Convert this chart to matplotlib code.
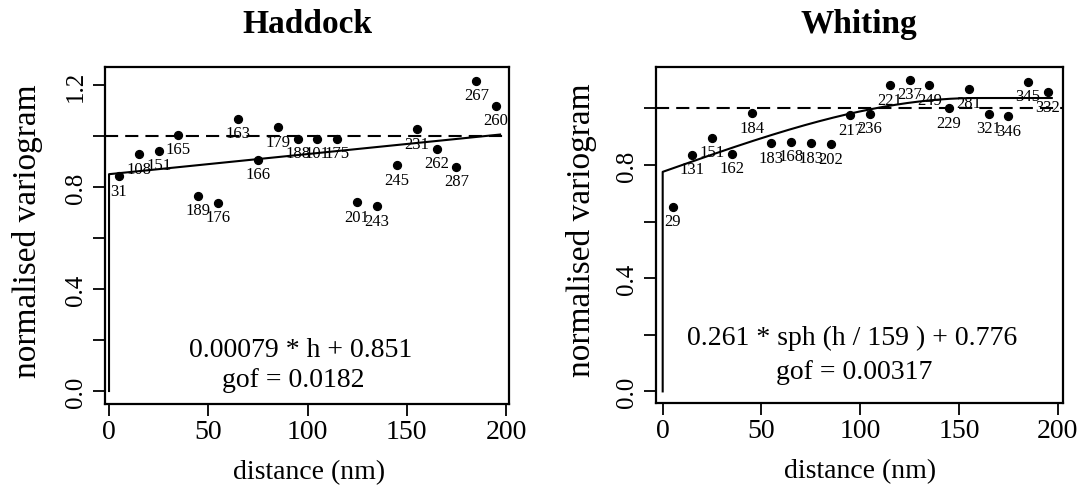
import numpy as np
import matplotlib
matplotlib.use('Agg')
import matplotlib.pyplot as plt

plt.rcParams['font.family'] = ['Liberation Serif', 'DejaVu Serif']

# --- data ---
lags = [5, 15, 25, 35, 45, 55, 65, 75, 85, 95, 105, 115, 125, 135, 145, 155, 165, 175, 185, 195]

haddock_gamma = [0.842, 0.929, 0.942, 1.005, 0.766, 0.737, 1.069, 0.906, 1.035, 0.991,
                 0.991, 0.991, 0.740, 0.725, 0.886, 1.027, 0.951, 0.880, 1.218, 1.119]
haddock_npairs = [31, 108, 151, 165, 189, 176, 163, 166, 179, 188,
                  101, 175, 201, 243, 245, 231, 262, 287, 267, 260]

whiting_gamma = [0.652, 0.837, 0.895, 0.840, 0.983, 0.877, 0.883, 0.877, 0.873, 0.976,
                 0.982, 1.082, 1.101, 1.082, 1.000, 1.068, 0.980, 0.972, 1.095, 1.057]
whiting_npairs = [29, 131, 151, 162, 184, 183, 168, 183, 202, 217,
                  236, 221, 237, 249, 229, 281, 321, 346, 345, 332]

# fitted models (as printed on the chart)
HAD_SLOPE, HAD_NUGGET, HAD_GOF = 0.00079, 0.851, 0.0182
WHI_PSILL, WHI_RANGE, WHI_NUGGET, WHI_GOF = 0.261, 159, 0.776, 0.00317
H_MAX = 197

x_ticks = [0, 50, 100, 150, 200]


def sph(r):
    r = np.minimum(r, 1.0)
    return 1.5 * r - 0.5 * r ** 3


def style_axes(ax, xlim, ylim, ylabels):
    ax.set_xlim(*xlim)
    ax.set_ylim(*ylim)
    ax.set_xticks(x_ticks)
    ax.set_xticklabels([str(t) for t in x_ticks], fontsize=20)
    yt = np.arange(0, 1.21, 0.2)
    yt = yt[yt <= ylim[1]]
    ax.set_yticks(yt)
    ax.set_yticklabels([f'{v:.1f}' if round(v, 1) in ylabels else '' for v in yt],
                       fontsize=18, rotation=90, va='center')
    ax.tick_params(axis='x', direction='out', length=8.5, width=1.3, pad=2.5)
    ax.tick_params(axis='y', direction='out', length=8.5, width=1.3, pad=4.5)
    for s in ax.spines.values():
        s.set_linewidth(1.6)
    ax.set_xlabel('distance (nm)', fontsize=20)
    ax.set_ylabel('normalised variogram', fontsize=24)


def add_points(ax, gamma, npairs):
    ax.scatter(lags, gamma, s=32, color='black', zorder=3)
    for x, y, n in zip(lags, gamma, npairs):
        ax.annotate(str(n), (x, y), xytext=(0, -4.5), textcoords='offset points',
                    ha='center', va='top', fontsize=12)


fig = plt.figure(figsize=(10.83, 5.02), dpi=100)
ax1 = fig.add_axes([0.0970, 0.1932, 0.373, 0.671])
ax2 = fig.add_axes([0.6057, 0.1952, 0.3755, 0.669])

# Haddock
style_axes(ax1, (-2.0, 201.5), (-0.051, 1.271), [0.0, 0.4, 0.8, 1.2])
add_points(ax1, haddock_gamma, haddock_npairs)
ax1.axhline(1.0, color='black', lw=1.5, ls=(0, (6.3, 3.4)))
h1 = [0, 0, H_MAX]
g1 = [0, HAD_NUGGET, HAD_NUGGET + HAD_SLOPE * H_MAX]
ax1.plot(h1, g1, color='black', lw=1.5)
ax1.text(96.7, 0.138, f'{HAD_SLOPE} * h + {HAD_NUGGET}', ha='center', va='baseline', fontsize=20)
ax1.text(93.0, 0.021, f'gof = {HAD_GOF}', ha='center', va='baseline', fontsize=20)
ax1.set_title('Haddock', fontsize=24, fontweight='bold', pad=25)
ax1.yaxis.set_label_coords(-0.153, 0.516)
ax1.xaxis.set_label_coords(0.504, -0.163)

# Whiting
style_axes(ax2, (-3.4, 202.5), (-0.041, 1.146), [0.0, 0.4, 0.8])
add_points(ax2, whiting_gamma, whiting_npairs)
ax2.axhline(1.0, color='black', lw=1.5, ls=(0, (6.3, 3.4)))
h2 = np.concatenate([[0, 0], np.linspace(0.001, H_MAX, 300)])
g2 = WHI_NUGGET + WHI_PSILL * sph(h2 / WHI_RANGE)
g2[0] = 0
ax2.plot(h2, g2, color='black', lw=1.5)
ax2.text(96.0, 0.167, f'{WHI_PSILL} * sph (h / {WHI_RANGE} ) + {WHI_NUGGET}',
         ha='center', va='baseline', fontsize=20)
ax2.text(97.0, 0.046, f'gof = {WHI_GOF}', ha='center', va='baseline', fontsize=20)
ax2.set_title('Whiting', fontsize=24, fontweight='bold', pad=25)
ax2.yaxis.set_label_coords(-0.145, 0.518)
ax2.xaxis.set_label_coords(0.502, -0.163)

fig.savefig('out.png', dpi=100)
